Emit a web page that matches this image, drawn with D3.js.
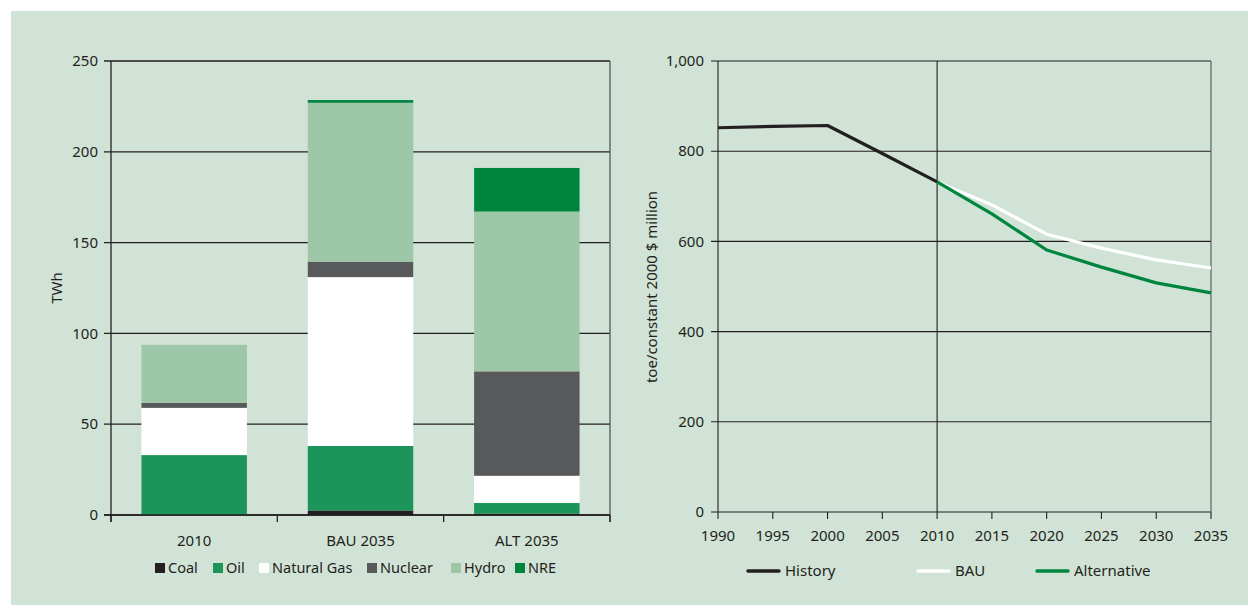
<!DOCTYPE html>
<html><head><meta charset="utf-8">
<script src="https://cdn.jsdelivr.net/npm/d3@7"></script>
<style>
html,body{margin:0;padding:0;background:#fff;}
svg text{font-family:"Noto Sans","Open Sans",sans-serif;fill:#231f20;}
</style></head>
<body>
<svg id="c" width="1248" height="616"></svg>
<script>
// ---- Left chart data (TWh) ----
const categories = ["2010", "BAU 2035", "ALT 2035"];
const sources = ["Coal", "Oil", "Natural Gas", "Nuclear", "Hydro", "NRE"];
const coal       = [0,    2.5,  0.8];
const oil        = [33,   35.5, 5.8];
const naturalGas = [26,   93,   15];
const nuclear    = [2.7,  8.5,  57.5];
const hydro      = [32,   87.5, 88];
const nre        = [0,    1.5,  24];
const leftTicks  = [0, 50, 100, 150, 200, 250];

// ---- Right chart data (toe/constant 2000 $ million) ----
const historyYears = [1990, 1995, 2000, 2005, 2010];
const historyVals  = [852, 855, 857, 795, 732];
const projYears    = [2010, 2015, 2020, 2025, 2030, 2035];
const bauVals      = [732, 681, 616, 585, 559, 541];
const altVals      = [732, 661, 581, 543, 508, 486];
const rightYTicks  = [0, 200, 400, 600, 800, 1000];
const rightXTicks  = [1990, 1995, 2000, 2005, 2010, 2015, 2020, 2025, 2030, 2035];

const colors = {"Coal":"#231f20","Oil":"#1b9559","Natural Gas":"#ffffff","Nuclear":"#58595b","Hydro":"#9ec7a8","NRE":"#00853e"};
const lineColors = {"History":"#231f20","BAU":"#ffffff","Alternative":"#00853e"};
const ink = "#231f20";
const FS = 15;

const svg = d3.select("#c");
svg.append("rect").attr("x",11).attr("y",11).attr("width",1237).attr("height",594).attr("fill","#d1e3d6");

// ================= LEFT CHART =================
const L = {x0:111, x1:610, y0:61, y1:515};
const xL = d3.scaleBand().domain(categories).range([L.x0, L.x1]).paddingInner(0.366).paddingOuter(0.183);
const yL = d3.scaleLinear().domain([0,250]).range([L.y1, L.y0]);
const gL = svg.append("g");

gL.selectAll("line.grid").data(leftTicks).join("line")
  .attr("x1",L.x0-7).attr("x2",L.x1).attr("y1",d=>yL(d)).attr("y2",d=>yL(d))
  .attr("stroke",ink).attr("stroke-width",1.3);
gL.append("line").attr("x1",L.x0).attr("x2",L.x0).attr("y1",L.y0).attr("y2",L.y1+7).attr("stroke",ink).attr("stroke-width",1.3);
gL.append("line").attr("x1",L.x1).attr("x2",L.x1).attr("y1",L.y0).attr("y2",L.y1+7).attr("stroke","#555").attr("stroke-width",1.3);

const rows = categories.map((c,i)=>({cat:c,"Coal":coal[i],"Oil":oil[i],"Natural Gas":naturalGas[i],"Nuclear":nuclear[i],"Hydro":hydro[i],"NRE":nre[i]}));
const stack = d3.stack().keys(sources)(rows);
gL.selectAll("g.series").data(stack).join("g").attr("fill",d=>colors[d.key])
  .selectAll("rect").data(d=>d).join("rect")
  .attr("x",d=>xL(d.data.cat)).attr("width",xL.bandwidth())
  .attr("y",d=>yL(d[1])).attr("height",d=>Math.max(0,yL(d[0])-yL(d[1])));

gL.append("line").attr("x1",L.x0-7).attr("x2",L.x1).attr("y1",yL(0)).attr("y2",yL(0)).attr("stroke",ink).attr("stroke-width",1.3);
const bounds = [L.x0, L.x0+(L.x1-L.x0)/3, L.x0+2*(L.x1-L.x0)/3, L.x1];
gL.selectAll("line.ct").data(bounds).join("line")
  .attr("x1",d=>d).attr("x2",d=>d).attr("y1",L.y1).attr("y2",L.y1+7).attr("stroke",ink).attr("stroke-width",1.3);

gL.selectAll("text.yt").data(leftTicks).join("text")
  .attr("x",L.x0-13).attr("y",d=>yL(d)).attr("dy","0.35em").attr("text-anchor","end")
  .attr("font-size",FS).text(d=>d);
gL.selectAll("text.xt").data(categories).join("text")
  .attr("x",d=>xL(d)+xL.bandwidth()/2).attr("y",546).attr("text-anchor","middle")
  .attr("font-size",FS).text(d=>d);
gL.append("text").attr("transform","translate(62,288) rotate(-90)").attr("text-anchor","middle")
  .attr("font-size",FS).text("TWh");

const legX = [155, 213, 259, 367, 451, 515];
const lg = gL.selectAll("g.leg").data(sources).join("g").attr("transform",(d,i)=>`translate(${legX[i]},563)`);
lg.append("rect").attr("width",10).attr("height",10).attr("fill",d=>colors[d]);
lg.append("text").attr("x",13).attr("y",5).attr("dy","0.35em").attr("font-size",14.5).text(d=>d);

// ================= RIGHT CHART =================
const R = {x0:718, x1:1211, y0:61, y1:512};
const xR = d3.scaleLinear().domain([1990,2035]).range([R.x0,R.x1]);
const yR = d3.scaleLinear().domain([0,1000]).range([R.y1,R.y0]);
const gR = svg.append("g");

gR.selectAll("line.grid").data(rightYTicks).join("line")
  .attr("x1",R.x0-7).attr("x2",R.x1).attr("y1",d=>yR(d)).attr("y2",d=>yR(d))
  .attr("stroke",ink).attr("stroke-width",1.1);
gR.append("line").attr("x1",R.x0).attr("x2",R.x0).attr("y1",R.y0).attr("y2",R.y1).attr("stroke",ink).attr("stroke-width",1.1);
gR.append("line").attr("x1",xR(2010)).attr("x2",xR(2010)).attr("y1",R.y0).attr("y2",R.y1).attr("stroke",ink).attr("stroke-width",1.1);
gR.append("line").attr("x1",R.x1).attr("x2",R.x1).attr("y1",R.y0).attr("y2",R.y1).attr("stroke","#555").attr("stroke-width",1.1);
gR.selectAll("line.xt").data(rightXTicks).join("line")
  .attr("x1",d=>xR(d)).attr("x2",d=>xR(d)).attr("y1",R.y1).attr("y2",R.y1+7).attr("stroke",ink).attr("stroke-width",1.1);

gR.selectAll("text.yt").data(rightYTicks).join("text")
  .attr("x",R.x0-14).attr("y",d=>yR(d)).attr("dy","0.35em").attr("text-anchor","end")
  .attr("font-size",FS).text(d=>d3.format(",")(d));
gR.selectAll("text.xt").data(rightXTicks).join("text")
  .attr("x",d=>xR(d)).attr("y",541).attr("text-anchor","middle")
  .attr("font-size",FS).text(d=>d);
gR.append("text").attr("transform","translate(657,287) rotate(-90)").attr("text-anchor","middle")
  .attr("font-size",FS).text("toe/constant 2000 $ million");

const line = d3.line().x(d=>xR(d[0])).y(d=>yR(d[1]));
const series = [
  {name:"BAU", pts:d3.zip(projYears,bauVals)},
  {name:"Alternative", pts:d3.zip(projYears,altVals)},
  {name:"History", pts:d3.zip(historyYears,historyVals)}
];
gR.selectAll("path.s").data(series).join("path")
  .attr("d",d=>line(d.pts)).attr("fill","none").attr("stroke",d=>lineColors[d.name])
  .attr("stroke-width",3.2).attr("stroke-linejoin","round");

const legR = [{n:"History",x:748},{n:"BAU",x:918},{n:"Alternative",x:1037}];
const lr = gR.selectAll("g.leg").data(legR).join("g").attr("transform",d=>`translate(${d.x},571)`);
lr.append("line").attr("x1",0).attr("x2",31).attr("stroke",d=>lineColors[d.n]).attr("stroke-width",3.5).attr("stroke-linecap","round");
lr.append("text").attr("x",37).attr("dy","0.35em").attr("font-size",FS).text(d=>d.n);
</script>
</body></html>
